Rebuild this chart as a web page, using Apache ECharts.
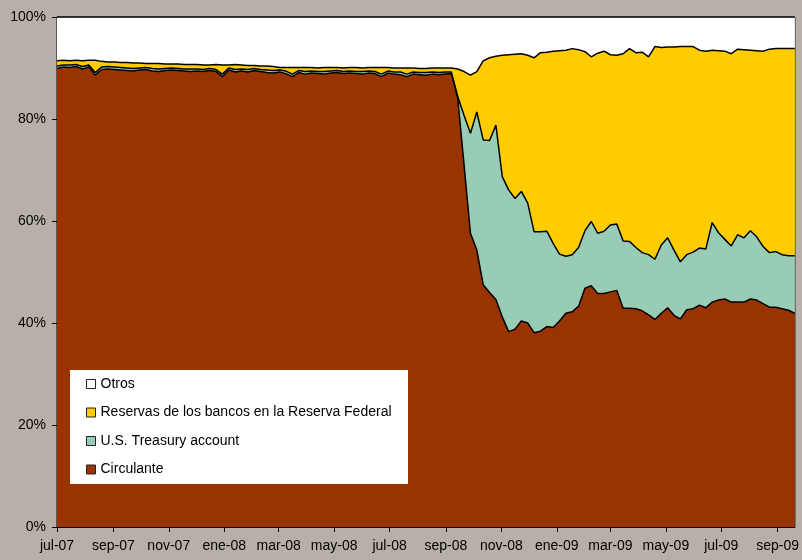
<!DOCTYPE html>
<html lang="es">
<head>
<meta charset="UTF-8">
<title>Pasivos de la Reserva Federal</title>
<script src="https://cdn.jsdelivr.net/npm/echarts@6/dist/echarts.min.js"></script>
<style>
  html, body { margin: 0; padding: 0; background: #b8b0a8; }
  #chart { width: 802px; height: 560px; }
</style>
</head>
<body>
<div id="chart"></div>
<script>
// semanas desde el 1 de julio de 2007 (117 observaciones)
var weekCount = 117;
var dia = 86400000;
var inicio = Date.UTC(2007, 6, 1);
var fechas = [];
for (var i = 0; i < weekCount; i++) {
  fechas.push(new Date(inicio + i * 7 * dia).toISOString().slice(0, 10));
}

// marcas del eje x cada dos meses (días desde el 1-jul-07)
function diasDesde(y, m) { return Math.round((Date.UTC(y, m, 1) - inicio) / dia); }
var tickDias = [
  diasDesde(2007, 6), diasDesde(2007, 8), diasDesde(2007, 10),
  diasDesde(2008, 0), diasDesde(2008, 2), diasDesde(2008, 4),
  diasDesde(2008, 6), diasDesde(2008, 8), diasDesde(2008, 10),
  diasDesde(2009, 0), diasDesde(2009, 2), diasDesde(2009, 4),
  diasDesde(2009, 6), diasDesde(2009, 8)
];
var tickLabels = ['jul-07', 'sep-07', 'nov-07', 'ene-08', 'mar-08', 'may-08', 'jul-08',
  'sep-08', 'nov-08', 'ene-09', 'mar-09', 'may-09', 'jul-09', 'sep-09'];

// % del total
var circulante = [
  89.9, 90.2, 90.1, 90.3, 89.8, 90.2, 88.6, 89.7, 89.8, 89.7,
  89.6, 89.5, 89.4, 89.6, 89.7, 89.4, 89.3, 89.5, 89.6, 89.5,
  89.4, 89.3, 89.4, 89.3, 89.5, 89.3, 88.3, 89.6, 89.2, 89.4,
  89.2, 89.5, 89.3, 89.1, 89.0, 89.2, 88.9, 88.3, 89.1, 88.8,
  89.0, 88.9, 88.8, 89.0, 89.1, 88.9, 89.0, 88.9, 88.8, 89.0,
  88.9, 88.3, 89.0, 88.8, 88.7, 88.3, 88.8, 88.7, 88.6, 88.8,
  88.7, 88.8, 88.9, 84.1, 70.9, 57.6, 54.3, 47.5, 46.0, 44.6,
  41.2, 38.3, 38.8, 40.4, 40.0, 38.1, 38.4, 39.3, 39.1, 40.4,
  41.9, 42.2, 43.3, 46.8, 47.3, 45.8, 45.8, 46.1, 46.4, 42.9,
  42.9, 42.8, 42.4, 41.6, 40.7, 41.9, 43.0, 41.5, 40.8, 42.6,
  42.8, 43.5, 43.0, 44.1, 44.5, 44.7, 44.1, 44.1, 44.1, 44.7,
  44.5, 43.8, 43.1, 43.1, 42.8, 42.5, 41.9
];
var tesoro = [
  0.5, 0.4, 0.5, 0.4, 0.5, 0.4, 0.5, 0.5, 0.5, 0.5,
  0.5, 0.5, 0.5, 0.4, 0.4, 0.5, 0.5, 0.4, 0.4, 0.4,
  0.4, 0.5, 0.4, 0.4, 0.4, 0.4, 0.5, 0.4, 0.5, 0.4,
  0.5, 0.4, 0.4, 0.5, 0.5, 0.4, 0.5, 0.5, 0.4, 0.5,
  0.4, 0.4, 0.5, 0.4, 0.4, 0.4, 0.4, 0.4, 0.5, 0.4,
  0.4, 0.5, 0.4, 0.4, 0.5, 0.5, 0.4, 0.4, 0.5, 0.4,
  0.4, 0.4, 0.3, 0.3, 9.8, 19.6, 27.1, 28.4, 29.8, 34.2,
  27.5, 27.8, 25.6, 25.4, 23.5, 19.8, 19.5, 18.7, 16.5, 13.1,
  11.2, 11.2, 11.5, 11.3, 12.6, 11.8, 12.2, 13.1, 13.0, 13.2,
  13.1, 12.0, 11.4, 11.8, 11.8, 13.4, 13.7, 12.8, 11.2, 10.8,
  11.1, 11.2, 11.5, 15.6, 13.2, 11.7, 11.0, 13.2, 12.6, 13.4,
  12.4, 11.2, 10.7, 10.9, 10.6, 10.7, 11.3
];
var reservas = [
  1.0, 0.9, 0.8, 0.8, 1.1, 0.9, 2.4, 1.1, 0.9, 1.0,
  1.0, 1.1, 1.1, 1.0, 0.8, 1.0, 1.1, 0.9, 0.8, 0.9,
  0.9, 0.9, 0.9, 0.9, 0.7, 1.0, 1.8, 0.6, 1.0, 0.8,
  0.8, 0.6, 0.7, 0.8, 0.8, 0.5, 0.7, 1.3, 0.6, 0.8,
  0.7, 0.7, 0.8, 0.7, 0.6, 0.7, 0.7, 0.8, 0.7, 0.7,
  0.8, 1.3, 0.7, 0.8, 0.8, 1.2, 0.8, 0.8, 0.8, 0.8,
  0.9, 0.8, 0.8, 5.4, 8.6, 11.4, 7.9, 15.5, 16.2, 13.5,
  23.8, 26.5, 28.3, 27.0, 29.0, 34.1, 35.1, 35.1, 37.7, 39.9,
  40.4, 40.4, 38.8, 35.1, 32.3, 35.3, 35.3, 33.4, 33.1, 36.7,
  37.8, 38.2, 39.3, 38.8, 41.7, 38.7, 37.4, 39.8, 42.2, 40.8,
  40.3, 38.8, 38.8, 33.8, 35.7, 36.9, 37.7, 36.4, 36.9, 35.4,
  36.5, 38.3, 39.9, 39.8, 40.4, 40.6, 40.6
];
var otros = [
  8.6, 8.5, 8.6, 8.5, 8.6, 8.5, 8.5, 8.7, 8.8, 8.8,
  8.9, 8.9, 9.0, 9.0, 9.1, 9.1, 9.1, 9.2, 9.2, 9.2,
  9.3, 9.3, 9.3, 9.4, 9.4, 9.3, 9.4, 9.4, 9.3, 9.4,
  9.5, 9.5, 9.6, 9.6, 9.7, 9.9, 9.9, 9.9, 9.9, 9.9,
  9.9, 10.0, 9.9, 9.9, 9.9, 10.0, 9.9, 9.9, 10.0, 9.9,
  9.9, 9.9, 9.9, 10.0, 10.0, 10.0, 10.0, 10.1, 10.1, 10.0,
  10.0, 10.0, 10.0, 10.2, 10.7, 11.4, 10.7, 8.6, 8.0, 7.7,
  7.5, 7.4, 7.3, 7.2, 7.5, 8.0, 7.0, 6.9, 6.7, 6.6,
  6.5, 6.2, 6.4, 6.8, 7.8, 7.1, 6.7, 7.4, 7.5, 7.2,
  6.2, 7.0, 6.9, 7.8, 5.8, 6.0, 5.9, 5.9, 5.8, 5.8,
  5.8, 6.5, 6.7, 6.5, 6.6, 6.7, 7.2, 6.3, 6.4, 6.5,
  6.6, 6.7, 6.3, 6.2, 6.2, 6.2, 6.2
];

function serie(nombre, valores, color) {
  return {
    name: nombre,
    type: 'line',
    stack: 'total',
    symbol: 'none',
    xAxisIndex: 0,
    data: valores,
    itemStyle: { color: color },
    lineStyle: { color: '#000', width: 1.5 },
    areaStyle: { color: color, opacity: 1 }
  };
}

var fuente = 'Liberation Sans, Arial, sans-serif';
var myChart = echarts.init(document.getElementById('chart'));

var option = {
  backgroundColor: '#b8b0a8',
  animation: false,
  grid: {
    left: 57, right: 5, top: 17, bottom: 33,
    show: true, backgroundColor: '#fff', borderColor: '#000', borderWidth: 1
  },
  legend: {
    orient: 'vertical',
    left: 86, top: 377,
    padding: 0,
    itemWidth: 9, itemHeight: 9, itemGap: 14.5,
    icon: 'rect',
    itemStyle: { borderColor: '#222', borderWidth: 1 },
    textStyle: { fontFamily: fuente, fontSize: 14, color: '#000' },
    data: ['Otros', 'Reservas de los bancos en la Reserva Federal', 'U.S. Treasury account', 'Circulante'],
    z: 20
  },
  graphic: [{
    type: 'rect',
    z: 10,
    shape: { x: 70, y: 370, width: 338, height: 114 },
    style: { fill: '#fff' }
  }],
  xAxis: [{
    // eje de las semanas, sobre el que se apilan las series
    type: 'category',
    data: fechas,
    boundaryGap: false,
    show: false
  }, {
    // eje visible en días, con marcas al inicio de cada dos meses
    type: 'value',
    position: 'bottom',
    min: 0,
    max: (weekCount - 1) * 7,
    axisLine: { show: true, lineStyle: { color: '#000', width: 1 } },
    axisTick: { show: true, length: 5, lineStyle: { color: '#000' }, customValues: tickDias },
    axisLabel: {
      customValues: tickDias,
      margin: 12,
      fontFamily: fuente, fontSize: 14, color: '#000',
      formatter: function (v) {
        var best = 0;
        for (var k = 1; k < tickDias.length; k++) {
          if (Math.abs(tickDias[k] - v) < Math.abs(tickDias[best] - v)) best = k;
        }
        return tickLabels[best];
      }
    },
    splitLine: { show: false }
  }],
  yAxis: {
    type: 'value',
    min: 0, max: 100, interval: 20,
    axisLine: { show: true, lineStyle: { color: '#000', width: 1 } },
    axisTick: { show: true, length: 5, lineStyle: { color: '#000' } },
    axisLabel: {
      margin: 11,
      fontFamily: fuente, fontSize: 14, color: '#000',
      formatter: '{value}%'
    },
    splitLine: { show: false }
  },
  series: [
    serie('Circulante', circulante, '#993300'),
    serie('U.S. Treasury account', tesoro, '#99ccb4'),
    serie('Reservas de los bancos en la Reserva Federal', reservas, '#ffcc00'),
    serie('Otros', otros, '#ffffff')
  ]
};
myChart.setOption(option);
</script>
</body>
</html>
